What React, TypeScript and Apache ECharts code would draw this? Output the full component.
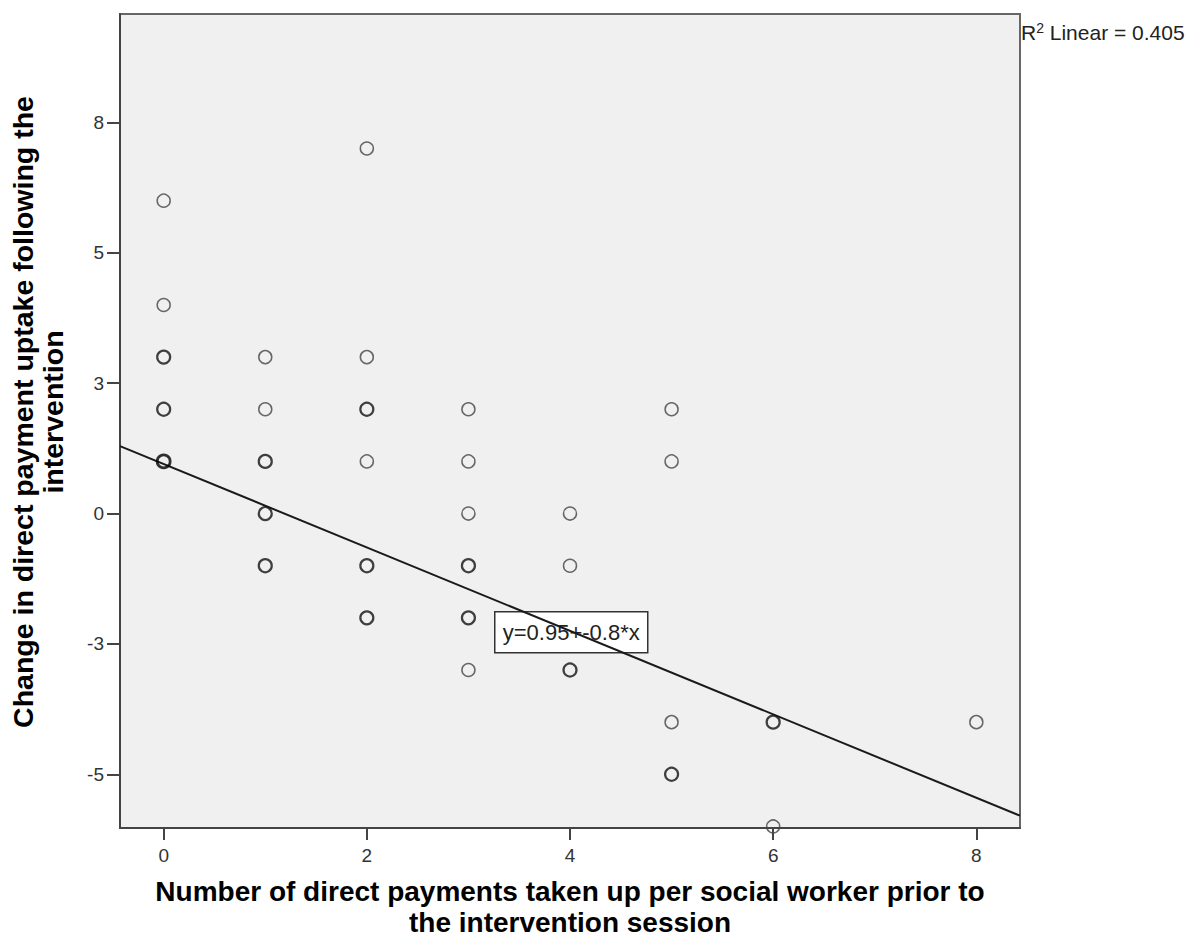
import React, { useEffect, useRef } from "react";
import * as echarts from "echarts";

// Data (x = payments before, y = change after)
const xValues = [0, 0, 0, 0, 0, 1, 1, 1, 1, 1, 2, 2, 2, 2, 2, 2, 3, 3, 3, 3, 3, 3, 4, 4, 4, 5, 5, 5, 5, 6, 6, 8];
const yValues = [6, 4, 3, 2, 1, 3, 2, 1, 0, -1, 7, 3, 2, 1, -1, -2, 2, 1, 0, -1, -2, -3, 0, -1, -3, 2, 1, -4, -5, -4, -6, -4];
const pointCounts = [1, 1, 2, 2, 3, 1, 1, 2, 2, 2, 1, 1, 2, 1, 2, 2, 1, 1, 1, 2, 2, 1, 1, 1, 2, 1, 1, 1, 2, 2, 1, 1];

const xTicks = [0, 2, 4, 6, 8];
const yTicks = [-5, -2.5, 0, 2.5, 5, 7.5];

const intercept = 0.95;
const slope = -0.8;
const rSquared = 0.405;

const xMin = -0.43;
const xMax = 8.43;
const yMin = -6.03;
const yMax = 9.58;

const FONT = "'Liberation Sans', Arial, sans-serif";

function fmtTick(v: number): string {
  const r = v < 0 ? -Math.round(-v) : Math.round(v);
  return String(r);
}

export default function App() {
  const ref = useRef<HTMLDivElement>(null);

  useEffect(() => {
    if (!ref.current) return;
    const chart = echarts.init(ref.current, undefined, { renderer: "svg" });

    const pointData = xValues.map((x, i) => {
      const c = pointCounts[i];
      return {
        value: [x, yValues[i]],
        itemStyle: {
          color: "rgba(0,0,0,0)",
          borderColor: c >= 3 ? "#000" : c === 2 ? "#111" : "#444",
          borderWidth: c >= 3 ? 2.7 : c === 2 ? 2.2 : 1.5,
        },
      };
    });

    const lineData = [
      [xMin, intercept + slope * xMin],
      [xMax, intercept + slope * xMax],
    ];

    chart.setOption({
      animation: false,
      textStyle: { fontFamily: FONT },
      grid: {
        left: 120,
        right: 166,
        top: 14,
        bottom: 112,
        show: true,
        backgroundColor: "#f0f0f0",
        borderColor: "#666",
        borderWidth: 2,
      },
      xAxis: {
        type: "value",
        min: xMin,
        max: xMax,
        splitLine: { show: false },
        axisLine: { show: true, onZero: false, lineStyle: { color: "#444", width: 2 } },
        axisTick: { show: true, length: 12, customValues: xTicks, lineStyle: { color: "#444", width: 2 } },
        axisLabel: {
          customValues: xTicks,
          formatter: (v: number) => fmtTick(v),
          fontSize: 19,
          color: "#333",
          margin: 18,
          fontFamily: FONT,
        },
      },
      yAxis: {
        type: "value",
        min: yMin,
        max: yMax,
        splitLine: { show: false },
        axisLine: { show: true, onZero: false, lineStyle: { color: "#444", width: 2 } },
        axisTick: { show: true, length: 13, customValues: yTicks, lineStyle: { color: "#444", width: 2 } },
        axisLabel: {
          customValues: yTicks,
          formatter: (v: number) => fmtTick(v),
          fontSize: 19,
          color: "#333",
          margin: 16,
          fontFamily: FONT,
        },
      },
      series: [
        {
          type: "line",
          data: lineData,
          symbol: "none",
          lineStyle: { color: "#1a1a1a", width: 2 },
          silent: true,
          z: 2,
        },
        {
          type: "scatter",
          data: pointData,
          symbol: "circle",
          symbolSize: 13,
          clip: true,
          z: 3,
        },
      ],
      graphic: [
        {
          type: "text",
          left: 1021,
          top: 21,
          style: {
            rich: {
              b: { fontSize: 21, fontFamily: FONT, fill: "#222" },
              s: { fontSize: 14, fontFamily: FONT, fill: "#222", verticalAlign: "top", padding: [0, 0, 9, 0] },
            },
            text: "{b|R}{s|2}{b| Linear = " + rSquared.toFixed(3) + "}",
          },
          z: 10,
        },
        {
          type: "group",
          left: 494,
          top: 611,
          z: 10,
          children: [
            {
              type: "rect",
              shape: { x: 0, y: 0, width: 153, height: 41 },
              style: { fill: "#fff", stroke: "#333", lineWidth: 1.5 },
            },
            {
              type: "text",
              x: 76.5,
              y: 21,
              style: {
                text: "y=" + intercept + "+" + slope + "*x",
                fontSize: 22,
                fontFamily: FONT,
                fill: "#222",
                textAlign: "center",
                textVerticalAlign: "middle",
              },
            },
          ],
        },
        {
          type: "text",
          x: 570,
          y: 907,
          z: 10,
          style: {
            text: "Number of direct payments taken up per social worker prior to\nthe intervention session",
            fontSize: 28,
            fontWeight: "bold",
            fontFamily: FONT,
            fill: "#000",
            textAlign: "center",
            textVerticalAlign: "middle",
            lineHeight: 31,
          },
        },
        {
          type: "text",
          x: 38,
          y: 412,
          rotation: Math.PI / 2,
          z: 10,
          style: {
            text: "Change in direct payment uptake following the\nintervention",
            fontSize: 28.5,
            fontWeight: "bold",
            fontFamily: FONT,
            fill: "#000",
            textAlign: "center",
            textVerticalAlign: "middle",
            lineHeight: 30,
          },
        },
      ],
    });

    return () => chart.dispose();
  }, []);

  return (
    <div
      ref={ref}
      style={{ position: "fixed", left: 0, top: 0, width: 1186, height: 940, background: "#fff" }}
    />
  );
}
